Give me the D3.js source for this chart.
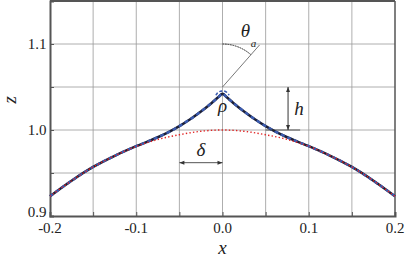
<!DOCTYPE html>
<html>
<head>
<meta charset="utf-8">
<script src="https://cdn.jsdelivr.net/npm/d3@7"></script>
<style>
body { margin: 0; background: #fff; }
svg text { font-family: "Liberation Serif", serif; }
</style>
</head>
<body>
<div id="content"></div>
<script>
// Set up canvas
var width = 409, height = 258;
var margin = {left: 50, top: 1, right: 14, bottom: 42};

// data
var xVals = [-0.2, -0.175, -0.15, -0.125, -0.1, -0.0875, -0.075, -0.0625, -0.05, -0.0375, -0.025, -0.0125, -0.005, 0,
             0.005, 0.0125, 0.025, 0.0375, 0.05, 0.0625, 0.075, 0.0875, 0.1, 0.125, 0.15, 0.175, 0.2];
var zProfile = [0.923, 0.941, 0.957, 0.970, 0.9812, 0.9862, 0.9915, 0.9975, 1.0045, 1.0125, 1.0215, 1.0315, 1.038, 1.042,
                1.038, 1.0315, 1.0215, 1.0125, 1.0045, 0.9975, 0.9915, 0.9862, 0.9812, 0.970, 0.957, 0.941, 0.923];
var xBase = [-0.2, -0.175, -0.15, -0.125, -0.1, -0.075, -0.05, -0.025, 0, 0.025, 0.05, 0.075, 0.1, 0.125, 0.15, 0.175, 0.2];
var zBase = [0.923, 0.941, 0.957, 0.970, 0.981, 0.989, 0.9945, 0.9985, 1.0, 0.9985, 0.9945, 0.989, 0.981, 0.970, 0.957, 0.941, 0.923];
var xTicks = [-0.2, -0.1, 0.0, 0.1, 0.2];
var xTickLabels = ["-0.2", "-0.1", "0.0", "0.1", "0.2"];
var yTicks = [0.9, 1.0, 1.1];
var yTickLabels = ["0.9", "1.0", "1.1"];
var xGrid = [-0.15, -0.1, -0.05, 0, 0.05, 0.1, 0.15];
var yGrid = [0.95, 1.0, 1.05, 1.1];

var svg = d3.select("#content")
    .append("svg")
    .attr("width", width)
    .attr("height", height);

var xscale = d3.scaleLinear()
    .domain([-0.2, 0.2])
    .range([margin.left, width - margin.right]);

var yscale = d3.scaleLinear()
    .domain([0.9, 1.15])
    .range([height - margin.bottom, margin.top]);

function label(x, y, s, size, italic) {
    return svg.append("text")
        .attr("x", x).attr("y", y)
        .attr("text-anchor", "middle")
        .attr("fill", "#222")
        .attr("font-family", "Liberation Serif")
        .attr("font-size", size)
        .attr("font-style", italic ? "italic" : "normal")
        .text(s);
}

// grid
svg.append("g").selectAll("line")
    .data(xGrid).enter().append("line")
    .attr("x1", d => xscale(d)).attr("x2", d => xscale(d))
    .attr("y1", yscale(0.9)).attr("y2", yscale(1.15))
    .attr("stroke", "#999").attr("stroke-width", 0.8);
svg.append("g").selectAll("line")
    .data(yGrid).enter().append("line")
    .attr("x1", xscale(-0.2)).attr("x2", xscale(0.2))
    .attr("y1", d => yscale(d)).attr("y2", d => yscale(d))
    .attr("stroke", "#999").attr("stroke-width", 0.8);

// axes (ticks inward)
var x_axis = d3.axisBottom(xscale).tickValues(xGrid.concat([-0.2, 0.2])).tickSize(-4).tickFormat("");
var y_axis = d3.axisLeft(yscale).tickValues(yGrid.concat([0.9])).tickSize(-4).tickFormat("");

svg.append("g")
    .attr("transform", "translate(0," + yscale(0.9) + ")")
    .call(x_axis)
    .call(g => g.selectAll("line").attr("stroke", "#555"))
    .call(g => g.select(".domain").attr("stroke", "#555").attr("stroke-width", 2));
svg.append("g")
    .attr("transform", "translate(" + xscale(-0.2) + ",0)")
    .call(y_axis)
    .call(g => g.selectAll("line").attr("stroke", "#555"))
    .call(g => g.select(".domain").attr("stroke", "#555").attr("stroke-width", 2));

// frame top / right
svg.append("line")
    .attr("x1", xscale(-0.2)).attr("x2", xscale(0.2))
    .attr("y1", yscale(1.15)).attr("y2", yscale(1.15))
    .attr("stroke", "#555").attr("stroke-width", 2);
svg.append("line")
    .attr("x1", xscale(0.2)).attr("x2", xscale(0.2))
    .attr("y1", yscale(1.15)).attr("y2", yscale(0.9))
    .attr("stroke", "#555").attr("stroke-width", 1.5);

// tick labels
xTicks.forEach((d, i) => label(xscale(d), yscale(0.9) + 17, xTickLabels[i], 15, false));
yTicks.forEach((d, i) => label(xscale(-0.2) - 13, yscale(d) + (i == 0 ? 1 : 5), yTickLabels[i], 15, false));

// axis titles
label(xscale(0), 254, "x", 19, true);
label(0, 0, "z", 19, true)
    .attr("transform", "translate(16," + yscale(1.035) + ") rotate(-90)");

// curves
var profile = xVals.map((d, i) => [d, zProfile[i]]);
var base = xBase.map((d, i) => [d, zBase[i]]);
var line = d3.line()
    .x(d => xscale(d[0]))
    .y(d => yscale(d[1]))
    .curve(d3.curveCatmullRom);

svg.append("path").datum(profile)
    .attr("d", line).attr("fill", "none")
    .attr("stroke", "#1c2038").attr("stroke-width", 2.6);
svg.append("path").datum(profile)
    .attr("d", line).attr("fill", "none")
    .attr("stroke", "#3b5bb0").attr("stroke-width", 2.4)
    .attr("stroke-dasharray", "4,3");
svg.append("path").datum(base)
    .attr("d", line).attr("fill", "none")
    .attr("stroke", "#e02424").attr("stroke-width", 1.4)
    .attr("stroke-dasharray", "1.4,2.2");

// rho circle at tip
var tipX = xscale(0), tipY = yscale(1.042);
var arc = d3.arc().innerRadius(7).outerRadius(7)
    .startAngle(-1.2).endAngle(1.2);
svg.append("path")
    .attr("transform", "translate(" + tipX + "," + (tipY + 4) + ")")
    .attr("d", arc())
    .attr("fill", "none").attr("stroke", "#3b5bb0").attr("stroke-width", 1.5)
    .attr("stroke-dasharray", "2.5,2.5");
label(tipX, tipY + 18, "ρ", 19, true);

// theta_a annotation
var ox = xscale(0), oy = yscale(1.05);
svg.append("line")
    .attr("x1", ox).attr("y1", oy)
    .attr("x2", ox + 37).attr("y2", oy - 42)
    .attr("stroke", "#555").attr("stroke-width", 0.8);
var thetaArc = d3.arc().innerRadius(43).outerRadius(43).startAngle(0).endAngle(0.72);
svg.append("path")
    .attr("transform", "translate(" + ox + "," + oy + ")")
    .attr("d", thetaArc())
    .attr("fill", "none").attr("stroke", "#333").attr("stroke-width", 1)
    .attr("stroke-dasharray", "1,1.5");
label(ox + 23, 37, "θ", 19, true);
label(ox + 31, 47, "a", 11, true);

// arrows
svg.append("defs").append("marker")
    .attr("id", "arr").attr("viewBox", "0 0 10 10")
    .attr("refX", 10).attr("refY", 5)
    .attr("markerWidth", 7).attr("markerHeight", 5)
    .attr("orient", "auto-start-reverse")
    .append("path").attr("d", "M0,1 L10,5 L0,9 Z").attr("fill", "#333");

var hx = xscale(0.076);
svg.append("line")
    .attr("x1", hx).attr("x2", hx)
    .attr("y1", yscale(1.05)).attr("y2", yscale(1.0))
    .attr("stroke", "#333").attr("stroke-width", 1)
    .attr("marker-start", "url(#arr)").attr("marker-end", "url(#arr)");
svg.append("line")
    .attr("x1", xscale(0.05)).attr("x2", xscale(0.09))
    .attr("y1", yscale(1.0)).attr("y2", yscale(1.0))
    .attr("stroke", "#333").attr("stroke-width", 0.8);
label(hx + 11, yscale(1.025) + 6, "h", 19, true);

var dy = yscale(0.962);
svg.append("line")
    .attr("x1", xscale(-0.05)).attr("x2", xscale(0))
    .attr("y1", dy).attr("y2", dy)
    .attr("stroke", "#555").attr("stroke-width", 1)
    .attr("marker-start", "url(#arr)").attr("marker-end", "url(#arr)");
label(xscale(-0.025), dy - 7, "δ", 19, true);
</script>
</body>
</html>
